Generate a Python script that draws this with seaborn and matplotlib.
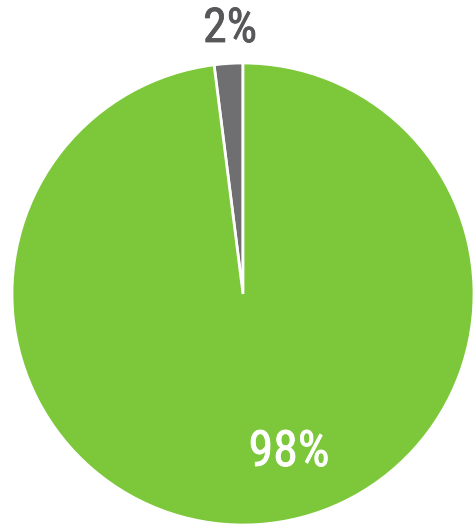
import matplotlib
matplotlib.use("Agg")
import matplotlib.pyplot as plt
import matplotlib.patheffects as pe
from matplotlib import font_manager
import seaborn as sns

# Share of responses
categories = ["Other", "Main"]
shares = [2, 98]
labels = ["2%", "98%"]
slice_colors = ["#6f6f71", "#7cc83a"]
label_colors = ["#58585a", "white"]

sns.set_theme(style="white")

# prefer a narrow face when one is installed
names = {f.name for f in font_manager.fontManager.ttflist}
narrow = [n for n in ["Liberation Sans Narrow", "Roboto Condensed", "DejaVu Sans Condensed",
                      "Open Sans Condensed"] if n in names]
plt.rcParams["font.family"] = narrow + ["Roboto", "DejaVu Sans"]

fig = plt.figure(figsize=(4.75, 5.27), dpi=100)
ax = fig.add_axes([0, 0, 1, 1])

ax.pie(
    shares,
    colors=slice_colors,
    startangle=90,
    counterclock=True,
    radius=1.0,
    wedgeprops=dict(edgecolor="white", linewidth=2),
)

# place the unit circle so one unit is ~231 px
r_px = 231.0
cx, cy = 243.0, 294.0
ax.set_xlim(-cx / r_px, (475 - cx) / r_px)
ax.set_ylim(-(527 - cy) / r_px, cy / r_px)
ax.set_aspect("auto")
ax.axis("off")

positions = [((230 - cx) / r_px, (cy - 29) / r_px), ((289 - cx) / r_px, (cy - 452) / r_px)]
sizes = [34.5, 36]
for lab, col, (x, y), fs in zip(labels, label_colors, positions, sizes):
    ax.text(x, y, lab, fontstretch="condensed", ha="center", va="center",
            fontsize=fs, color=col, fontweight="normal",
            path_effects=[pe.withStroke(linewidth=0.6, foreground=col)])

fig.savefig("out.png", dpi=100)
